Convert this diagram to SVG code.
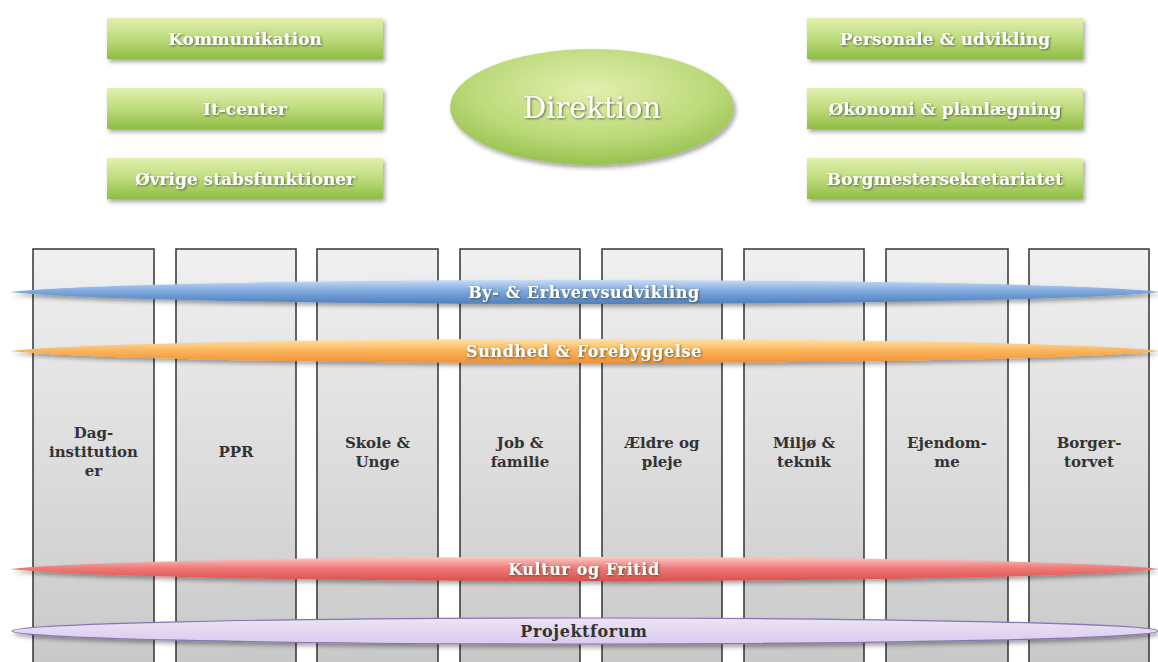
<svg xmlns="http://www.w3.org/2000/svg" width="1158" height="662" viewBox="0 0 1158 662">
<defs>
<linearGradient id="gGreen" x1="0" y1="0" x2="0" y2="1">
<stop offset="0" stop-color="#e2f0b0"/><stop offset="0.5" stop-color="#bedb7c"/><stop offset="1" stop-color="#8fbd45"/>
</linearGradient>
<radialGradient id="gEll" cx="0.5" cy="0.35" r="0.7">
<stop offset="0" stop-color="#e2f0ae"/><stop offset="0.6" stop-color="#bcd97a"/><stop offset="1" stop-color="#90bd47"/>
</radialGradient>
<linearGradient id="gCol" x1="0" y1="0" x2="0" y2="1">
<stop offset="0" stop-color="#f0f0f0"/><stop offset="0.5" stop-color="#dddddd"/><stop offset="1" stop-color="#c8c8c8"/>
</linearGradient>
<linearGradient id="gBlue" x1="0" y1="0" x2="0" y2="1">
<stop offset="0" stop-color="#c6dcf6"/><stop offset="0.45" stop-color="#7fa9dd"/><stop offset="1" stop-color="#4f7fc0"/>
</linearGradient>
<linearGradient id="gOrange" x1="0" y1="0" x2="0" y2="1">
<stop offset="0" stop-color="#fde3a8"/><stop offset="0.45" stop-color="#fbb760"/><stop offset="1" stop-color="#f29033"/>
</linearGradient>
<linearGradient id="gRed" x1="0" y1="0" x2="0" y2="1">
<stop offset="0" stop-color="#fbcaca"/><stop offset="0.45" stop-color="#ee7b79"/><stop offset="1" stop-color="#dc4f4c"/>
</linearGradient>
<linearGradient id="gPurple" x1="0" y1="0" x2="0" y2="1">
<stop offset="0" stop-color="#ece4f6"/><stop offset="1" stop-color="#d9cbee"/>
</linearGradient>
<filter id="sh" x="-5%" y="-50%" width="110%" height="200%">
<feDropShadow dx="2" dy="3" stdDeviation="2" flood-color="#000" flood-opacity="0.35"/>
</filter>
<filter id="tsh" x="-10%" y="-30%" width="120%" height="160%">
<feDropShadow dx="1" dy="1" stdDeviation="0.8" flood-color="#3a4a20" flood-opacity="0.8"/>
</filter>
</defs>
<style>
.gbox{fill:url(#gGreen);filter:url(#sh)}
.gt{font-family:"DejaVu Serif",serif;font-weight:bold;font-size:17px;fill:#fff;text-anchor:middle;filter:url(#tsh)}
.col{fill:url(#gCol);stroke:#333;stroke-width:1.5}
.ct{font-family:"DejaVu Serif",serif;font-weight:bold;font-size:15px;fill:#333;text-anchor:middle}
.bt{font-family:"DejaVu Serif",serif;font-weight:bold;font-size:16px;letter-spacing:0.6px;fill:#fff;text-anchor:middle;filter:url(#tsh)}
</style>
<rect width="1158" height="662" fill="#fff"/>

<g id="columns">
<g id="col-dag"><rect class="col" x="33" y="249" width="121" height="420"/><text class="ct" x="93.5" y="438">Dag-</text><text class="ct" x="93.5" y="457">institution</text><text class="ct" x="93.5" y="476">er</text></g>
<g id="col-ppr"><rect class="col" x="176" y="249" width="120" height="420"/><text class="ct" x="236" y="457">PPR</text></g>
<g id="col-skole"><rect class="col" x="317" y="249" width="121" height="420"/><text class="ct" x="377.5" y="448">Skole &amp;</text><text class="ct" x="377.5" y="467">Unge</text></g>
<g id="col-job"><rect class="col" x="460" y="249" width="120" height="420"/><text class="ct" x="520" y="448">Job &amp;</text><text class="ct" x="520" y="467">familie</text></g>
<g id="col-aeldre"><rect class="col" x="602" y="249" width="120" height="420"/><text class="ct" x="662" y="448">Ældre og</text><text class="ct" x="662" y="467">pleje</text></g>
<g id="col-miljo"><rect class="col" x="744" y="249" width="120" height="420"/><text class="ct" x="804" y="448">Miljø &amp;</text><text class="ct" x="804" y="467">teknik</text></g>
<g id="col-ejendom"><rect class="col" x="886" y="249" width="122" height="420"/><text class="ct" x="947" y="448">Ejendom-</text><text class="ct" x="947" y="467">me</text></g>
<g id="col-borger"><rect class="col" x="1029" y="249" width="120" height="420"/><text class="ct" x="1089" y="448">Borger-</text><text class="ct" x="1089" y="467">torvet</text></g>
</g>

<g id="bands">
<g id="band-by"><path d="M10,292 C150,276 1020,276 1160,292 C1020,308 150,308 10,292 Z" fill="url(#gBlue)" filter="url(#sh)"/><text class="bt" x="584" y="298">By- &amp; Erhvervsudvikling</text></g>
<g id="band-sundhed"><path d="M10,351 C150,335 1020,335 1160,351 C1020,367 150,367 10,351 Z" fill="url(#gOrange)" filter="url(#sh)"/><text class="bt" x="584" y="357">Sundhed &amp; Forebyggelse</text></g>
<g id="band-kultur"><path d="M10,569 C150,553 1020,553 1160,569 C1020,585 150,585 10,569 Z" fill="url(#gRed)" filter="url(#sh)"/><text class="bt" x="584" y="575">Kultur og Fritid</text></g>
<g id="band-projekt"><ellipse cx="585" cy="631" rx="573" ry="13" fill="url(#gPurple)" stroke="#8a74b0" stroke-width="1.2" filter="url(#sh)"/><text x="584" y="637" font-family="DejaVu Serif, serif" font-weight="bold" font-size="16" letter-spacing="0.6" fill="#333" text-anchor="middle">Projektforum</text></g>
</g>

<g id="staff-left">
<g id="kommunikation"><rect class="gbox" x="107" y="18" width="276" height="41"/><text class="gt" x="245" y="45">Kommunikation</text></g>
<g id="itcenter"><rect class="gbox" x="107" y="88" width="276" height="41"/><text class="gt" x="245" y="115">It-center</text></g>
<g id="ovrige"><rect class="gbox" x="107" y="158" width="276" height="41"/><text class="gt" x="245" y="185">Øvrige stabsfunktioner</text></g>
</g>

<g id="direktion"><ellipse cx="592" cy="107" rx="142" ry="58" fill="url(#gEll)" filter="url(#sh)"/><text x="592" y="118" font-family="DejaVu Serif, serif" font-size="29" fill="#fff" text-anchor="middle" filter="url(#tsh)">Direktion</text></g>

<g id="staff-right">
<g id="personale"><rect class="gbox" x="807" y="18" width="276" height="41"/><text class="gt" x="945" y="45">Personale &amp; udvikling</text></g>
<g id="okonomi"><rect class="gbox" x="807" y="88" width="276" height="41"/><text class="gt" x="945" y="115">Økonomi &amp; planlægning</text></g>
<g id="borgmester"><rect class="gbox" x="807" y="158" width="276" height="41"/><text class="gt" x="945" y="185">Borgmestersekretariatet</text></g>
</g>
</svg>
